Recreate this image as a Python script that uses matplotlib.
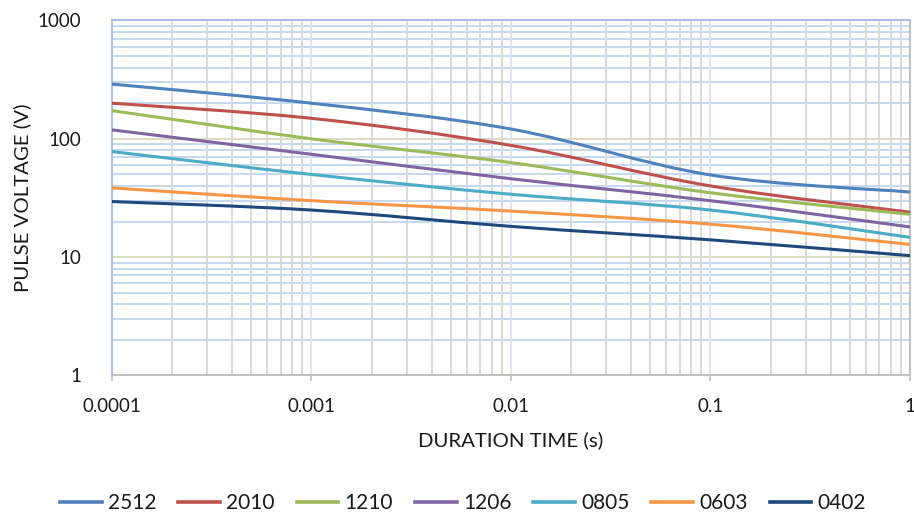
import numpy as np
import matplotlib
matplotlib.use("Agg")
import matplotlib.pyplot as plt
from matplotlib.path import Path
from matplotlib.patches import PathPatch
from matplotlib.lines import Line2D
from matplotlib.ticker import FixedLocator, FixedFormatter, LogLocator, NullFormatter

# ================================================================
# Data
# ================================================================
duration = [0.0001, 0.001, 0.01, 0.1, 1]

v_2512 = [290, 200, 121, 49.5, 35.5]
v_2010 = [200, 149, 88, 40, 24]
v_1210 = [173, 100, 63, 35, 23]
v_1206 = [119, 74, 46, 30, 18]
v_0805 = [78, 50, 34, 25, 14.7]
v_0603 = [38.5, 30, 24.5, 19, 12.8]
v_0402 = [29.5, 25, 18.2, 14, 10.3]

sizes = ['2512', '2010', '1210', '1206', '0805', '0603', '0402']
series = [v_2512, v_2010, v_1210, v_1206, v_0805, v_0603, v_0402]
colors = ['#4F81BD', '#C0504D', '#9BBB59', '#8064A2', '#4BACC6', '#F79646', '#1F497D']

x_ticks = [0.0001, 0.001, 0.01, 0.1, 1]
x_ticklabels = ['0.0001', '0.001', '0.01', '0.1', '1']
y_ticks = [1, 10, 100, 1000]
y_ticklabels = ['1', '10', '100', '1000']

plt.rcParams['font.family'] = ['Lato', 'DejaVu Sans']
txt = '#1a1a1a'


def smooth_path(x, y):
    # spreadsheet-style smoothed line: cubic Bezier between the points,
    # control points taken in log space (i.e. screen space of the log axes)
    p = np.column_stack([np.log10(x), np.log10(y)])
    n = len(p)
    verts = [p[0]]
    codes = [Path.MOVETO]
    for i in range(n - 1):
        p0 = p[max(i - 1, 0)]
        p3 = p[min(i + 2, n - 1)]
        c1 = p[i] + (p[i + 1] - p0) / 6.0
        c2 = p[i + 1] - (p3 - p[i]) / 6.0
        verts += [c1, c2, p[i + 1]]
        codes += [Path.CURVE4] * 3
    return Path(10 ** np.array(verts), codes)


# ================================================================
# Plot
# ================================================================
fig = plt.figure(figsize=(9.14, 5.16), dpi=100)
ax = fig.add_axes([0.1225, 0.2723, 0.8731, 0.688])

ax.set_xscale('log')
ax.set_yscale('log')
ax.set_xlim(x_ticks[0], x_ticks[-1])
ax.set_ylim(y_ticks[0], y_ticks[-1])

for vals, c in zip(series, colors):
    ax.add_patch(PathPatch(smooth_path(duration, vals), facecolor='none',
                           edgecolor=c, linewidth=2.2, capstyle='round',
                           joinstyle='round', zorder=3))

ax.xaxis.set_major_locator(FixedLocator(x_ticks))
ax.xaxis.set_major_formatter(FixedFormatter(x_ticklabels))
ax.yaxis.set_major_locator(FixedLocator(y_ticks))
ax.yaxis.set_major_formatter(FixedFormatter(y_ticklabels))
ax.xaxis.set_minor_locator(LogLocator(base=10, subs=np.arange(2, 10)))
ax.yaxis.set_minor_locator(LogLocator(base=10, subs=np.arange(2, 10)))
ax.xaxis.set_minor_formatter(NullFormatter())
ax.yaxis.set_minor_formatter(NullFormatter())

ax.set_axisbelow(True)
ax.yaxis.set_zorder(0.5)
ax.xaxis.set_zorder(0.6)
ax.grid(True, which='major', axis='y', color='#DDD9C4', linewidth=1.4)
ax.grid(True, which='minor', axis='y', color='#C6D8EF', linewidth=1.4)
ax.grid(True, which='major', axis='x', color='#DCE6F2', linewidth=1.4)
ax.grid(True, which='minor', axis='x', color='#D9D9D9', linewidth=1.4)

ax.tick_params(axis='x', which='major', direction='out', length=4, width=1.2,
               color='#BFBFBF', labelsize=13.5, labelcolor=txt, pad=12)
ax.tick_params(axis='y', which='major', length=0, labelsize=13.5,
               labelcolor=txt, pad=22)
ax.tick_params(which='minor', length=0)

for side in ['left', 'top']:
    ax.spines[side].set_color('#A7C0E0')
    ax.spines[side].set_linewidth(1.4)
for side in ['bottom', 'right']:
    ax.spines[side].set_color('#BFBFBF')
    ax.spines[side].set_linewidth(1.4)

ax.set_xlabel('DURATION TIME (s)', fontsize=14.7, color=txt, labelpad=12)
ax.set_ylabel('PULSE VOLTAGE (V)', fontsize=14.7, color=txt, labelpad=5)

handles = [Line2D([], [], color=c, linewidth=2.6) for c in colors]
fig.legend(handles, sizes, loc='center', bbox_to_anchor=(463 / 914, 1 - 503 / 516),
           ncol=7, frameon=False, fontsize=15, handlelength=2.0,
           columnspacing=1.05, handletextpad=0.3, labelcolor=txt)

fig.savefig('out.png', dpi=100)
